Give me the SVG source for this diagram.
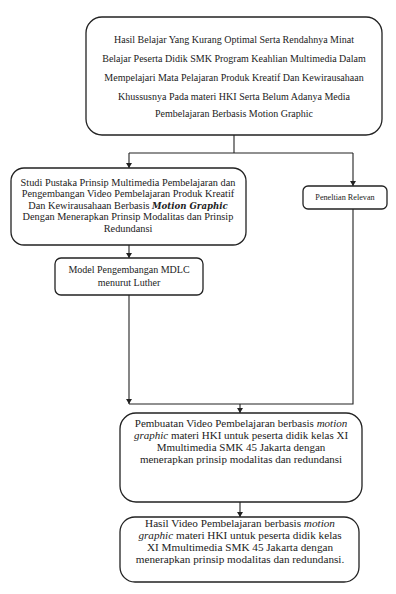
<svg xmlns="http://www.w3.org/2000/svg" width="396" height="594" viewBox="0 0 396 594">
<style>
.box{fill:#fff;stroke:#222;stroke-width:1.3}
.t{font-family:"Liberation Serif","Times New Roman",serif;fill:#222;text-anchor:middle}
.t10{font-size:10px}
.ts{font-size:10.3px}
.t11{font-size:11px}
.t11b{font-size:11.2px}
.t8{font-size:8.2px}
.c{stroke:#222;stroke-width:1.1;fill:none}
.mi{font-style:italic;font-weight:bold;font-family:"DejaVu Serif",serif;font-size:8.6px}
</style>
<defs>
<marker id="arr" markerWidth="6" markerHeight="6" refX="5" refY="3" orient="auto" markerUnits="userSpaceOnUse">
<path d="M0,0 L5,3 L0,6 Z" fill="#222"/>
</marker>
</defs>
<rect width="396" height="594" fill="#fff"/>
<g id="connectors">
<path class="c" d="M234,135 V153"/>
<path class="c" d="M129,153 H353"/>
<path class="c" d="M129,153 V168" marker-end="url(#arr)"/>
<path class="c" d="M353,153 V186" marker-end="url(#arr)"/>
<path class="c" d="M129,245 V258" marker-end="url(#arr)"/>
<path class="c" d="M129,295 V404" marker-end="url(#arr)"/>
<path class="c" d="M353,209 V404 H129"/>
<path class="c" d="M240,404 V413" marker-end="url(#arr)"/>
<path class="c" d="M240,502 V517" marker-end="url(#arr)"/>
</g>
<g id="masalah">
<rect class="box" x="86" y="17" width="296" height="118" rx="16"/>
<text class="t t10" x="234" y="43">Hasil Belajar Yang Kurang Optimal Serta Rendahnya Minat</text>
<text class="t t10" x="234" y="62">Belajar Peserta Didik SMK Program Keahlian Multimedia Dalam</text>
<text class="t t10" x="234" y="81">Mempelajari Mata Pelajaran Produk Kreatif Dan Kewirausahaan</text>
<text class="t t10" x="234" y="100">Khussusnya Pada materi HKI Serta Belum Adanya Media</text>
<text class="t t10" x="234" y="117">Pembelajaran Berbasis Motion Graphic</text>
</g>
<g id="studi">
<rect class="box" x="11" y="168" width="235" height="77" rx="13"/>
<text class="t ts" x="128" y="186">Studi Pustaka Prinsip Multimedia Pembelajaran dan</text>
<text class="t ts" x="128" y="197">Pengembangan Video Pembelajaran Produk Kreatif</text>
<text class="t ts" x="128" y="209">Dan Kewirausahaan Berbasis <tspan class="mi">Motion Graphic</tspan></text>
<text class="t ts" x="128" y="220">Dengan Menerapkan Prinsip Modalitas dan Prinsip</text>
<text class="t ts" x="128" y="232">Redundansi</text>
</g>
<g id="relevan">
<rect class="box" x="303" y="186" width="84" height="23" rx="5"/>
<text class="t t8" x="345" y="200">Peneltian Relevan</text>
</g>
<g id="mdlc">
<rect class="box" x="55" y="258" width="148" height="37" rx="6"/>
<text class="t t10" x="129" y="273">Model Pengembangan MDLC</text>
<text class="t t10" x="129" y="286">menurut Luther</text>
</g>
<g id="pembuatan">
<rect class="box" x="120" y="413" width="242" height="89" rx="16"/>
<text class="t t11" x="241" y="427">Pembuatan Video Pembelajaran berbasis <tspan font-style="italic">motion</tspan></text>
<text class="t t11" x="241" y="439"><tspan font-style="italic">graphic</tspan> materi HKI untuk peserta didik kelas XI</text>
<text class="t t11" x="241" y="451">Mmultimedia SMK 45 Jakarta dengan</text>
<text class="t t11" x="241" y="463">menerapkan prinsip modalitas dan redundansi</text>
</g>
<g id="hasil">
<rect class="box" x="120" y="517" width="239" height="65" rx="15"/>
<text class="t t11b" x="240" y="527">Hasil Video Pembelajaran berbasis <tspan font-style="italic">motion</tspan></text>
<text class="t t11b" x="240" y="539"><tspan font-style="italic">graphic</tspan> materi HKI untuk peserta didik kelas</text>
<text class="t t11b" x="240" y="551">XI Mmultimedia SMK 45 Jakarta dengan</text>
<text class="t t11b" x="240" y="563">menerapkan prinsip modalitas dan redundansi.</text>
</g>
</svg>
